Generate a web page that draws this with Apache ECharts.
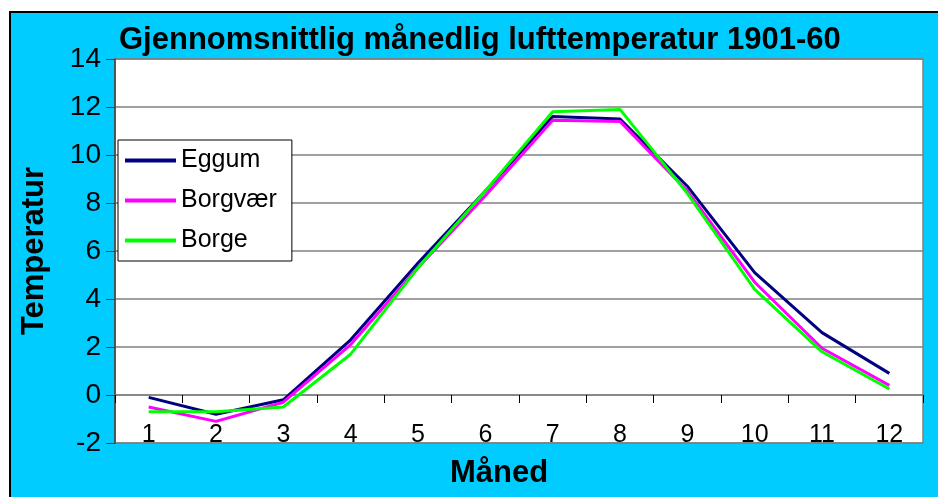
<!DOCTYPE html>
<html>
<head>
<meta charset="UTF-8">
<title>Gjennomsnittlig månedlig lufttemperatur</title>
<script src="https://cdn.jsdelivr.net/npm/echarts@6/dist/echarts.min.js"></script>
<style>
    html, body { margin: 0; padding: 0; background: #fff; }
    #frame { position: absolute; left: 9px; top: 11px; width: 940px; height: 500px;
             background: #00CCFF; border-left: 2px solid #000; border-top: 2px solid #000; }
    #main { position: absolute; left: 0; top: 0; width: 938px; height: 497px; }
</style>
</head>
<body>
<div id="frame"></div>
<div id="main"></div>
<script>
    // data
    var months = ['1', '2', '3', '4', '5', '6', '7', '8', '9', '10', '11', '12'];
    var eggum   = [-0.1, -0.8, -0.2, 2.3, 5.5, 8.5, 11.6, 11.5, 8.7, 5.1, 2.6, 0.9];
    var borgvaer = [-0.5, -1.1, -0.3, 2.1, 5.3, 8.3, 11.45, 11.4, 8.5, 4.7, 1.95, 0.4];
    var borge   = [-0.7, -0.7, -0.5, 1.7, 5.3, 8.5, 11.8, 11.9, 8.4, 4.4, 1.8, 0.25];

    var font = 'Liberation Sans, Arial, sans-serif';
    var myChart = echarts.init(document.getElementById('main'));

    function lineSeries(name, data, color) {
        return {
            name: name,
            type: 'line',
            data: data,
            symbol: 'none',
            lineStyle: { color: color, width: 3 },
            itemStyle: { color: color }
        };
    }

    var option = {
        backgroundColor: 'transparent',
        animation: false,
        title: {
            text: 'Gjennomsnittlig månedlig lufttemperatur 1901-60',
            left: 114,
            top: 20,
            textStyle: { fontFamily: font, fontSize: 31, fontWeight: 'bold', color: '#000' }
        },
        legend: {
            orient: 'vertical',
            left: 118,
            top: 140,
            backgroundColor: '#fff',
            borderColor: '#000',
            borderWidth: 1,
            borderRadius: 0,
            padding: [8, 15, 8, 7],
            itemWidth: 51,
            itemHeight: 4,
            itemGap: 15,
            icon: 'rect',
            textStyle: { fontFamily: font, fontSize: 25, color: '#000' },
            data: ['Eggum', 'Borgvær', 'Borge']
        },
        grid: {
            left: 115, top: 59, right: 15, bottom: 54,
            outerBoundsMode: 'none',
            show: true,
            backgroundColor: '#fff',
            borderColor: '#808080',
            borderWidth: 1.5
        },
        xAxis: {
            type: 'category',
            data: months,
            boundaryGap: true,
            name: 'Måned',
            nameLocation: 'middle',
            nameGap: 15,
            nameMoveOverlap: false,
            nameTextStyle: { fontFamily: font, fontSize: 31, fontWeight: 'bold', color: '#000', padding: [0, 40, 0, 0] },
            axisLine: { onZero: true, lineStyle: { color: '#808080', width: 1.5 } },
            axisTick: { show: true, length: 8, lineStyle: { color: '#000' } },
            axisLabel: { margin: -20, fontFamily: font, fontSize: 25, color: '#000' }
        },
        yAxis: {
            type: 'value',
            min: -2,
            max: 14,
            interval: 2,
            name: 'Temperatur',
            nameLocation: 'middle',
            nameRotate: 90,
            nameGap: 65,
            nameMoveOverlap: false,
            nameTextStyle: { fontFamily: font, fontSize: 31, fontWeight: 'bold', color: '#000' },
            axisLine: { show: true, lineStyle: { color: '#404040', width: 1.5 } },
            axisTick: { show: true, length: 9, lineStyle: { color: '#404040' } },
            axisLabel: { margin: 14, fontFamily: font, fontSize: 28, color: '#000' },
            splitLine: { lineStyle: { color: '#808080', width: 1.5 } }
        },
        series: [
            lineSeries('Eggum', eggum, '#000080'),
            lineSeries('Borgvær', borgvaer, '#FF00FF'),
            lineSeries('Borge', borge, '#00FF00')
        ]
    };

    myChart.setOption(option);
</script>
</body>
</html>
